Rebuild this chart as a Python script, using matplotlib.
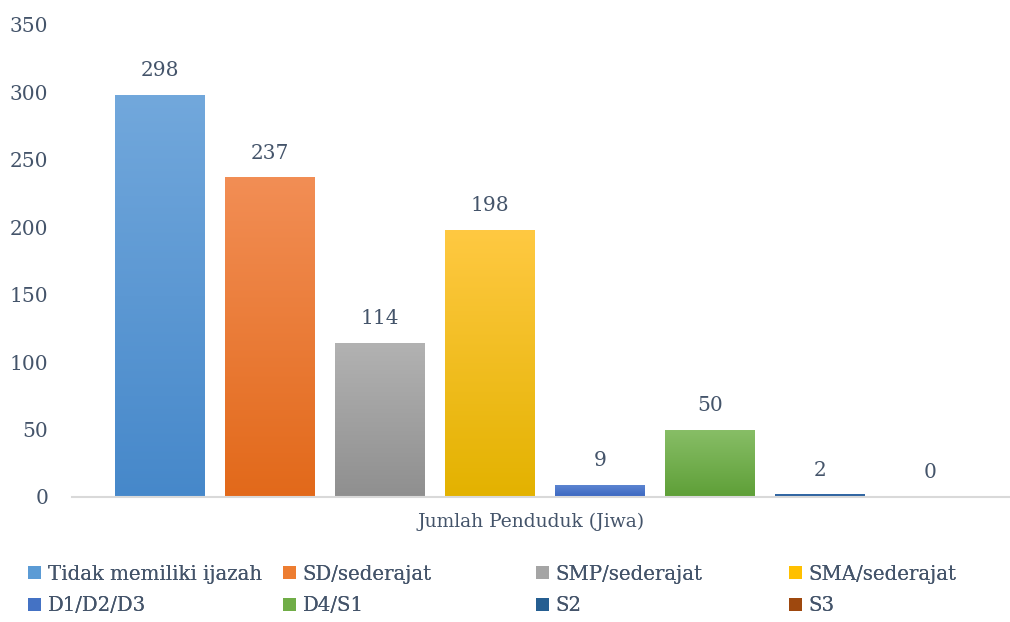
import numpy as np
import matplotlib
matplotlib.use("Agg")
from matplotlib import pyplot as plt
from matplotlib.colors import LinearSegmentedColormap
from matplotlib.patches import Patch

categories = ["Tidak memiliki ijazah", "SD/sederajat", "SMP/sederajat", "SMA/sederajat",
              "D1/D2/D3", "D4/S1", "S2", "S3"]
values = [298, 237, 114, 198, 9, 50, 2, 0]
top_colors = ["#72A8DC", "#F28E55", "#B2B2B2", "#FFC942", "#5F87D2", "#88BE67", "#336AA8", "#B35020"]
bottom_colors = ["#4688CA", "#E2691A", "#8F8F8F", "#E3B200", "#3A66C0", "#5E9F37", "#2A5A94", "#983C12"]
mid_colors = ["#5B9BD5", "#ED7D31", "#A5A5A5", "#FFC000", "#4472C4", "#70AD47", "#255E91", "#9E480E"]
xlabel = "Jumlah Penduduk (Jiwa)"
yticks = [0, 50, 100, 150, 200, 250, 300, 350]

txt = "#44546A"
plt.rcParams['font.family'] = ['DejaVu Serif']

fig = plt.figure(figsize=(10.10, 6.22), dpi=100)
ax = fig.add_axes([0.0713, 0.201, 0.9287, 0.759])

x = np.arange(len(values))
w = 0.818
bars = ax.bar(x, values, width=w, color="none", edgecolor="none")
grad = np.linspace(0, 1, 256).reshape(-1, 1)
for b, v, c1, c2 in zip(bars, values, top_colors, bottom_colors):
    cx = b.get_x() + b.get_width() / 2
    ax.text(cx, v + 18, str(v), ha="center", va="center", fontsize=14.5, color=txt)
    if v <= 0:
        continue
    cmap = LinearSegmentedColormap.from_list("g", [c2, c1])
    im = ax.imshow(grad, cmap=cmap, origin="lower", aspect="auto",
                   extent=[b.get_x(), b.get_x() + b.get_width(), 0, v], zorder=2)
    im.set_clip_path(b)

ax.set_xlim(-0.8, 7.73)
ax.set_ylim(0, 350)
ax.set_yticks(yticks)
ax.set_xticks([])
for s in ["top", "right", "left"]:
    ax.spines[s].set_visible(False)
ax.spines["bottom"].set_color("#D9D9D9")
ax.spines["bottom"].set_linewidth(1.5)
ax.tick_params(axis="y", length=0, pad=17, labelsize=14.5, labelcolor=txt)
ax.set_xlabel(xlabel, fontsize=13.5, color=txt)
ax.xaxis.set_label_coords(0.489, -0.033)

# legend: 4 columns, filled row by row
col_x = [28, 283, 536, 789]
for i, cx in enumerate(col_x):
    idx = [i, i + 4]
    handles = [Patch(facecolor=mid_colors[j], edgecolor="none") for j in idx]
    leg = fig.legend(handles, [categories[j] for j in idx], loc="center left",
                     bbox_to_anchor=(cx / 1010, 1 - 590 / 622), frameon=False,
                     fontsize=14.2, labelcolor=txt,
                     handlelength=0.65, handleheight=0.65, handletextpad=0.35,
                     borderpad=0, borderaxespad=0, labelspacing=0.65)
    for t in leg.get_texts():
        t.set_fontfamily("DejaVu Serif")
    fig.add_artist(leg)

fig.savefig("out.png", dpi=100)
